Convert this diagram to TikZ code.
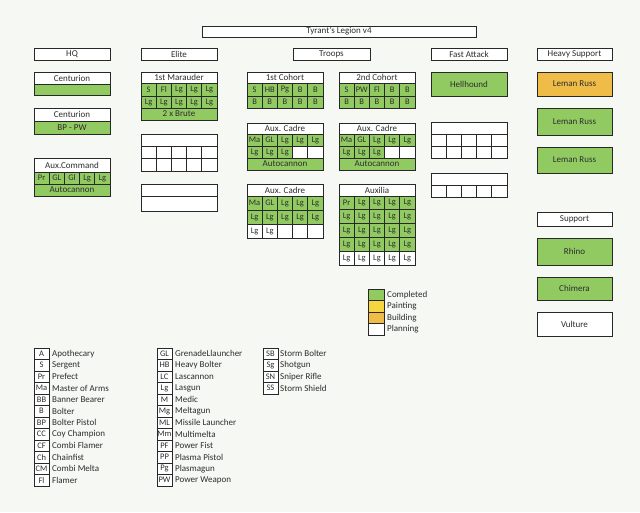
\documentclass[tikz,border=0pt]{standalone}
\usepackage{fontspec}
\setmainfont{Carlito}
\definecolor{bg}{RGB}{246,248,244}
\definecolor{gr}{RGB}{146,202,98}
\definecolor{orng}{RGB}{240,188,72}
\definecolor{yel}{RGB}{246,214,62}
\definecolor{ln}{RGB}{40,40,40}
\definecolor{tx}{RGB}{45,45,45}
\newcounter{cellno}
\tikzset{
  cell/.style={draw=ln, line width=0.8pt, inner sep=0pt, outer sep=0pt, anchor=north west, font=\fontsize{8.5}{9}\selectfont, text=tx},
  bigcell/.style={cell, font=\fontsize{9}{10}\selectfont},
  lbox/.style={draw=ln, line width=0.7pt, inner sep=0pt, outer sep=0pt, anchor=north west, minimum width=15pt, minimum height=11.5pt, font=\fontsize{8.5}{9}\selectfont, text=tx, fill=white},
  ltext/.style={anchor=west, inner sep=0pt, font=\fontsize{9}{10}\selectfont, text=tx}
}
\newcommand\cbox[6]{\stepcounter{cellno}\node[bigcell, fill=#5, minimum width=#3pt, minimum height=#4pt] (c\arabic{cellno}) at (#1,#2) {#6};}
\newcommand\smallcell[6]{\stepcounter{cellno}\node[cell, fill=#5, minimum width=#3pt, minimum height=#4pt] (c\arabic{cellno}) at (#1,#2) {#6};}
\newcommand\crow[5]{\foreach [count=\i from 0] \f/\t in {#5}{\smallcell{#1+\i*#3}{#2}{#3}{#4}{\f}{\t}}}
\begin{document}
\begin{tikzpicture}[x=1pt,y=-1pt]
\fill[bg] (0,0) rectangle (640,512);
\useasboundingbox (0,0) rectangle (640,512);
% title
\cbox{202}{26}{274}{11}{white}{Tyrant's Legion v4}
% headers
\cbox{34}{48}{76}{12}{white}{HQ}
\cbox{141}{48}{76}{12}{white}{Elite}
\cbox{293}{48}{77}{12}{white}{Troops}
\cbox{431}{48}{76}{12}{white}{Fast Attack}
\cbox{537}{48}{75}{12}{white}{Heavy Support}
% HQ
\cbox{34}{72}{76}{12}{white}{Centurion}
\cbox{34}{84}{76}{11}{gr}{}
\cbox{34}{108}{76}{13}{white}{Centurion}
\cbox{34}{121}{76}{13}{gr}{BP - PW}
\cbox{34}{158}{76}{14}{white}{Aux.Command}
\crow{34}{172}{15.2}{12}{gr/Pr,gr/GL,gr/Gl,gr/Lg,gr/Lg}
\cbox{34}{184}{76}{12}{gr}{Autocannon}
% Elite
\cbox{141}{72}{76}{11}{white}{1st Marauder}
\crow{141}{83}{15.2}{13}{gr/S,gr/Fl,gr/Lg,gr/Lg,gr/Lg}
\crow{141}{96}{15.2}{12}{gr/Lg,gr/Lg,gr/Lg,gr/Lg,gr/Lg}
\cbox{141}{108}{76}{12}{gr}{2 x Brute}
\cbox{141}{134}{76}{12}{white}{}
\crow{141}{146}{15.2}{12.5}{white/,white/,white/,white/,white/}
\crow{141}{158.5}{15.2}{13}{white/,white/,white/,white/,white/}
\cbox{141}{184}{76}{12}{white}{}
\cbox{141}{196}{76}{15}{white}{}
% Troops
\cbox{247}{72}{76}{11}{white}{1st Cohort}
\crow{247}{83}{15.2}{13}{gr/S,gr/HB,gr/Pg,gr/B,gr/B}
\crow{247}{96}{15.2}{12}{gr/B,gr/B,gr/B,gr/B,gr/B}
\cbox{339}{72}{76}{11}{white}{2nd Cohort}
\crow{339}{83}{15.2}{13}{gr/S,gr/PW,gr/Fl,gr/B,gr/B}
\crow{339}{96}{15.2}{12}{gr/B,gr/B,gr/B,gr/B,gr/B}
\cbox{247}{123}{76}{11}{white}{Aux. Cadre}
\crow{247}{134}{15.2}{12}{gr/Ma,gr/GL,gr/Lg,gr/Lg,gr/Lg}
\crow{247}{146}{15.2}{12}{gr/Lg,gr/Lg,gr/Lg,white/,white/}
\cbox{247}{158}{76}{12}{gr}{Autocannon}
\cbox{339}{123}{76}{11}{white}{Aux. Cadre}
\crow{339}{134}{15.2}{12}{gr/Ma,gr/GL,gr/Lg,gr/Lg,gr/Lg}
\crow{339}{146}{15.2}{12}{gr/Lg,gr/Lg,gr/Lg,white/,white/}
\cbox{339}{158}{76}{12}{gr}{Autocannon}
\cbox{247}{184}{76}{12}{white}{Aux. Cadre}
\crow{247}{196}{15.2}{14}{gr/Ma,gr/GL,gr/Lg,gr/Lg,gr/Lg}
\crow{247}{210}{15.2}{14}{gr/Lg,gr/Lg,gr/Lg,gr/Lg,gr/Lg}
\crow{247}{224}{15.2}{14}{white/Lg,white/Lg,white/,white/,white/}
\cbox{339}{184}{76}{12}{white}{Auxilia}
\crow{339}{196}{15.2}{13.8}{gr/Pr,gr/Lg,gr/Lg,gr/Lg,gr/Lg}
\crow{339}{209.8}{15.2}{13.8}{gr/Lg,gr/Lg,gr/Lg,gr/Lg,gr/Lg}
\crow{339}{223.6}{15.2}{13.8}{gr/Lg,gr/Lg,gr/Lg,gr/Lg,gr/Lg}
\crow{339}{237.4}{15.2}{13.8}{gr/Lg,gr/Lg,gr/Lg,gr/Lg,gr/Lg}
\crow{339}{251.2}{15.2}{13.8}{white/Lg,white/Lg,white/Lg,white/Lg,white/Lg}
% Fast Attack
\cbox{431}{72}{76}{24}{gr}{Hellhound}
\cbox{431}{122}{76}{12}{white}{}
\crow{431}{134}{15.2}{12}{white/,white/,white/,white/,white/}
\crow{431}{146}{15.2}{12}{white/,white/,white/,white/,white/}
\cbox{431}{173}{76}{12}{white}{}
\crow{431}{185}{15.2}{12}{white/,white/,white/,white/,white/}
% Heavy Support
\cbox{537}{72}{75}{24}{orng}{Leman Russ}
\cbox{537}{108}{75}{27}{gr}{Leman Russ}
\cbox{537}{147}{75}{26}{gr}{Leman Russ}
\cbox{537}{212}{75}{14}{white}{Support}
\cbox{537}{238}{75}{27}{gr}{Rhino}
\cbox{537}{277}{75}{23}{gr}{Chimera}
\cbox{537}{312}{75}{24}{white}{Vulture}
% Legend
\foreach [count=\i from 0] \f/\t in {gr/Completed,yel/Painting,orng/Building,white/Planning}{
  \node[cell, fill=\f, minimum width=16pt, minimum height=11.5pt] (lg\i) at (368,289+\i*11.5) {};
  \node[ltext] (lgt\i) at (387,294.75+\i*11.5) {\t};
}
% Abbreviations
\foreach [count=\i from 0] \a/\b in {A/Apothecary,S/Sergent,Pr/Prefect,Ma/Master of Arms,BB/Banner Bearer,B/Bolter,BP/Bolter Pistol,CC/Coy Champion,CF/Combi Flamer,Ch/Chainfist,CM/Combi Melta,Fl/Flamer}{
  \node[lbox] (la\i) at (34,348+\i*11.5) {\a};
  \node[ltext] (lat\i) at (52,353.75+\i*11.5) {\b};
}
\foreach [count=\i from 0] \a/\b in {GL/GrenadeLlauncher,HB/Heavy Bolter,LC/Lascannon,Lg/Lasgun,M/Medic,Mg/Meltagun,ML/Missile Launcher,Mm/Multimelta,PF/Power Fist,PP/Plasma Pistol,Pg/Plasmagun,PW/Power Weapon}{
  \node[lbox] (lb\i) at (157,348+\i*11.5) {\a};
  \node[ltext] (lbt\i) at (175,353.75+\i*11.5) {\b};
}
\foreach [count=\i from 0] \a/\b in {SB/Storm Bolter,Sg/Shotgun,SN/Sniper Rifle,SS/Storm Shield}{
  \node[lbox] (lc\i) at (263,348+\i*11.5) {\a};
  \node[ltext] (lct\i) at (280,353.75+\i*11.5) {\b};
}
\end{tikzpicture}
\end{document}
